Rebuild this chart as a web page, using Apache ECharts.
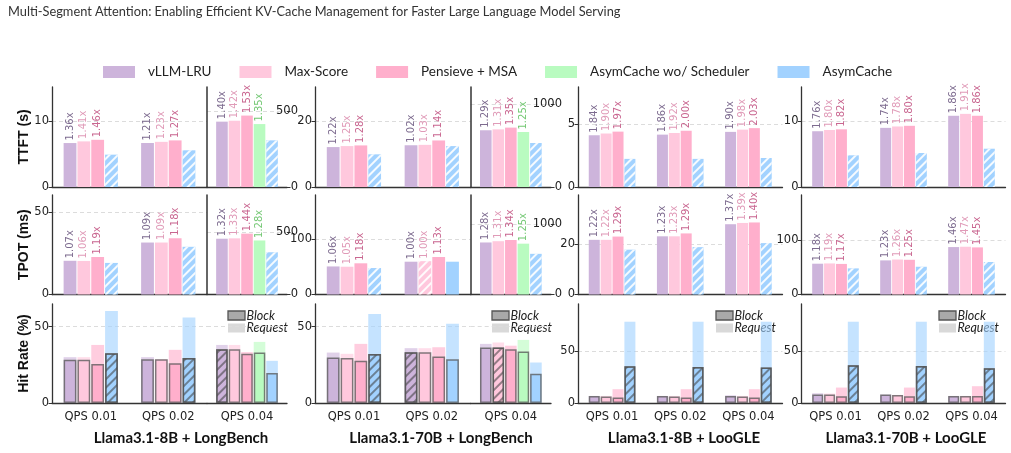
<!DOCTYPE html>
<html>
<head>
<meta charset="utf-8">
<script src="https://cdn.jsdelivr.net/npm/echarts@6/dist/echarts.min.js"></script>
<style>
  html, body { margin: 0; padding: 0; background: #fff; }
  #main { width: 1011px; height: 453px; }
</style>
</head>
<body>
<div id="main"></div>
<script>
// ---- data ----
var qps = ['QPS 0.01', 'QPS 0.02', 'QPS 0.04'];
var models = ['Llama3.1-8B + LongBench', 'Llama3.1-70B + LongBench', 'Llama3.1-8B + LooGLE', 'Llama3.1-70B + LooGLE'];
var methods = ['vLLM-LRU', 'Max-Score', 'Pensieve + MSA', 'AsymCache wo/ Scheduler', 'AsymCache'];
var metricNames = ['TTFT (s)', 'TPOT (ms)', 'Hit Rate (%)'];
var title = 'Multi-Segment Attention: Enabling Efficient KV-Cache Management for Faster Large Language Model Serving';

// one row per model, one value per QPS (QPS 0.04 of the LongBench models is on its own scale)
var ttftLru  = [[6.66, 6.67, 430], [12.1, 12.65, 686], [4.14, 4.19, 4.41], [8.45, 8.96, 10.79]];
var ttftMs   = [[6.91, 6.84, 436], [12.4, 12.77, 697], [4.28, 4.32, 4.59], [8.64, 9.17, 11.08]];
var ttftPm   = [[7.15, 7.06, 470], [12.6, 14.1, 718], [4.43, 4.5, 4.71], [8.74, 9.27, 10.79]];
var ttftWos  = [[null, null, 414], [null, null, 665], [null, null, null], [null, null, null]];
var ttftAsym = [[4.9, 5.56, 307], [9.9, 12.4, 532], [2.25, 2.25, 2.32], [4.8, 5.15, 5.8]];

var ttftLruLab = [['1.36x', '1.21x', '1.40x'], ['1.22x', '1.02x', '1.29x'], ['1.84x', '1.86x', '1.90x'], ['1.76x', '1.74x', '1.86x']];
var ttftMsLab  = [['1.41x', '1.23x', '1.42x'], ['1.25x', '1.03x', '1.31x'], ['1.90x', '1.92x', '1.98x'], ['1.80x', '1.78x', '1.91x']];
var ttftPmLab  = [['1.46x', '1.27x', '1.53x'], ['1.28x', '1.14x', '1.35x'], ['1.97x', '2.00x', '2.03x'], ['1.82x', '1.80x', '1.86x']];
var ttftWosLab = [['', '', '1.35x'], ['', '', '1.25x'], ['', '', ''], ['', '', '']];

var tpotLru  = [[20.5, 31.6, 449], [50.9, 59.5, 742], [21.7, 23.1, 27.9], [56.6, 62.7, 87.2]];
var tpotMs   = [[20.4, 31.6, 452], [50.4, 60.5, 760], [21.7, 23.1, 28.4], [57.1, 64.3, 87.8]];
var tpotPm   = [[22.8, 34.2, 490], [56.6, 68, 777], [23.0, 24.25, 28.6], [56.2, 63.8, 86.6]];
var tpotWos  = [[null, null, 435], [null, null, 725], [null, null, null], [null, null, null]];
var tpotAsym = [[19.2, 29.0, 340], [48, 59.5, 580], [17.8, 18.8, 20.4], [48, 51, 59.7]];

var tpotLruLab = [['1.07x', '1.09x', '1.32x'], ['1.06x', '1.00x', '1.28x'], ['1.22x', '1.23x', '1.37x'], ['1.18x', '1.23x', '1.46x']];
var tpotMsLab  = [['1.06x', '1.09x', '1.33x'], ['1.05x', '1.00x', '1.31x'], ['1.22x', '1.23x', '1.39x'], ['1.19x', '1.26x', '1.47x']];
var tpotPmLab  = [['1.19x', '1.18x', '1.44x'], ['1.18x', '1.13x', '1.34x'], ['1.29x', '1.29x', '1.40x'], ['1.17x', '1.25x', '1.45x']];
var tpotWosLab = [['', '', '1.28x'], ['', '', '1.25x'], ['', '', ''], ['', '', '']];

var hitBlockLru  = [[28.3, 28.7, 35.2], [29.8, 33.3, 36.3], [6.8, 6.8, 6.8], [8.1, 8.1, 6.8]];
var hitBlockMs   = [[28.3, 28.7, 35.2], [29.4, 33.3, 36.3], [6.2, 6.2, 6.2], [8.1, 7.8, 6.8]];
var hitBlockPm   = [[25.5, 26.1, 32.2], [27.6, 30.4, 35.2], [5.2, 5.2, 5.2], [6.5, 6.5, 6.8]];
var hitBlockWos  = [[null, null, 33.0], [null, null, 33.7], [null, null, null], [null, null, null]];
var hitBlockAsym = [[32.6, 29.4, 19.6], [32.0, 28.7, 19.1], [35.5, 34.8, 34.2], [36.5, 35.8, 33.6]];

var hitReqLru  = [[30, 30, 38], [33, 35.9, 38.7], [6.8, 6.8, 7.4], [9.4, 8.1, 6.8]];
var hitReqMs   = [[30, 28.7, 38], [32.2, 35.9, 39.6], [6.8, 6.8, 6.8], [9.1, 7.8, 6.8]];
var hitReqPm   = [[38, 34.8, 33.3], [38.7, 36.5, 37.5], [13.3, 13.3, 13.3], [14.9, 14.9, 16.2]];
var hitReqWos  = [[null, null, 40], [null, null, 41.3], [null, null, null], [null, null, null]];
var hitReqAsym = [[60.3, 55.9, 27.6], [58.3, 51.8, 26.5], [78.4, 78.4, 78.4], [78.4, 78.4, 78.4]];

// index of the hatched (best) method per model / QPS
var ttftHatch = [[4, 4, 4], [4, 4, 4], [4, 4, 4], [4, 4, 4]];
var tpotHatch = [[4, 4, 4], [4, 1, 4], [4, 4, 4], [4, 4, 4]];
var hitHatch  = [[4, 4, 0], [4, 0, 1], [4, 4, 4], [4, 4, 4]];

// ---- layout ----
var colors = ['#cdb4db', '#ffc8dd', '#ffafcc', '#b9fbc0', '#a2d2ff'];
var labelColors = ['#7d6b8f', '#e09bb8', '#c96690', '#74c874'];
var rowTop = [87, 195, 304], rowH = [100, 99.5, 99];
var groupX = [[52, 207, 287], [315, 470.7, 551], [578, null, 782.5], [801.5, null, 1005.5]];
var axisRange = [
  [[15.15, 10, 658, 500], [30.3, 20, 1209, 1000], [8, 5], [15.15, 10]],
  [[60.5, 50, 801, 500], [180.5, 100, 1419, 1000], [39.5, 20], [182.9, 100]],
  [[64.8, 50, 64.8, 50], [64.8, 50, 64.8, 50], [95.5, 50], [95.5, 50]]
];
var titleX = [181, 441, 684, 906];
var keyX = [228, 492, 716, 939];

var whiteHatch = {symbol: 'rect', symbolSize: 1, color: 'rgba(255,255,255,0.9)', dashArrayX: [1, 0], dashArrayY: [2, 4], rotation: -Math.PI / 4};
var greyHatch = {symbol: 'rect', symbolSize: 1, color: 'rgba(60,60,60,0.55)', dashArrayX: [1, 0], dashArrayY: [1.5, 4], rotation: -Math.PI / 4};

var grids = [], xAxes = [], yAxes = [], series = [], graphic = [];

function addGrid(x0, x1, row) {
  grids.push({left: x0, top: rowTop[row], width: x1 - x0, height: rowH[row]});
  return grids.length - 1;
}

function addCat(gi, cats, showLabel, hidden) {
  xAxes.push({
    type: 'category', gridIndex: gi, data: cats, show: !hidden,
    axisLine: {lineStyle: {color: '#333', width: 1.3}},
    axisTick: {alignWithLabel: true, length: 4, lineStyle: {color: '#333'}},
    axisLabel: {show: showLabel, interval: 0, margin: 8, fontSize: 11.5, fontFamily: 'DejaVu Sans', color: '#222'}
  });
  return xAxes.length - 1;
}

function addValue(gi, max, tick, side, bare) {
  var ticks = [0, tick];
  yAxes.push({
    type: 'value', gridIndex: gi, min: 0, max: max, position: side,
    axisLine: {show: side === 'left', lineStyle: {color: '#333', width: 1.3}},
    axisTick: {show: !bare, length: 3.5, customValues: ticks, lineStyle: {color: '#333'}},
    axisLabel: {show: !bare, customValues: ticks, align: 'right', margin: side === 'left' ? 3 : 11,
      formatter: function (v) { return String(v); },
      fontSize: 11.5, fontFamily: 'DejaVu Sans', color: '#222'},
    splitLine: {show: true, lineStyle: {color: '#dcdcdc', type: [4, 3]}}
  });
  return yAxes.length - 1;
}

function addDivider(gi) {
  yAxes.push({
    type: 'value', gridIndex: gi, min: 0, max: 1, position: 'left',
    axisLine: {show: true, lineStyle: {color: '#333', width: 1.5}},
    axisTick: {show: false}, axisLabel: {show: false}, splitLine: {show: false}
  });
}

function splitParts(g) {
  var gx = groupX[g];
  if (gx[1] === null) return [{x0: gx[0], x1: gx[2], q: [0, 1, 2], m: [0, 1, 2, 4], bw: 11}];
  return [
    {x0: gx[0], x1: gx[1], q: [0, 1], m: [0, 1, 2, 4], bw: 12.8},
    {x0: gx[1], x1: gx[2], q: [2], m: [0, 1, 2, 3, 4], bw: 11.6, right: true}
  ];
}

function latencyRow(row, vals, labs, hatch) {
  for (var g = 0; g < 4; g++) {
    var rng = axisRange[row][g];
    splitParts(g).forEach(function (p) {
      var gi = addGrid(p.x0, p.x1, row);
      var xi = addCat(gi, p.q.map(function (q) { return qps[q]; }), false, false);
      var yi;
      if (p.right) {
        addDivider(gi);
        yi = addValue(gi, rng[2], rng[3], 'right', false);
      } else {
        yi = addValue(gi, rng[0], rng[1], 'left', false);
      }
      p.m.forEach(function (m) {
        series.push({
          type: 'bar', name: methods[m], xAxisIndex: xi, yAxisIndex: yi,
          barWidth: p.bw, barGap: '8%',
          itemStyle: {color: colors[m]},
          label: {show: m < 4, position: 'top', rotate: 90, align: 'left', verticalAlign: 'middle',
            distance: 2.5, fontSize: 10, fontFamily: 'DejaVu Sans', color: labelColors[m]},
          data: p.q.map(function (q) {
            var item = {value: vals[m][g][q]};
            if (m < 4) item.label = {formatter: labs[m][g][q]};
            if (hatch[g][q] === m) item.itemStyle = {decal: whiteHatch};
            return item;
          })
        });
      });
    });
  }
}

function hitRow(block, req, hatch) {
  var row = 2;
  for (var g = 0; g < 4; g++) {
    var rng = axisRange[row][g];
    splitParts(g).forEach(function (p) {
      var gi = addGrid(p.x0, p.x1, row);
      var cats = p.q.map(function (q) { return qps[q]; });
      var xr = addCat(gi, cats, true, false);
      var xb = addCat(gi, cats, false, true);
      var yi = p.right ? addValue(gi, rng[2], rng[3], 'right', true) : addValue(gi, rng[0], rng[1], 'left', false);
      p.m.forEach(function (m) {
        series.push({
          type: 'bar', name: methods[m], xAxisIndex: xr, yAxisIndex: yi, z: 2,
          barWidth: p.bw, barGap: '8%',
          itemStyle: {color: colors[m], opacity: 0.62},
          data: p.q.map(function (q) { return req[m][g][q]; })
        });
        series.push({
          type: 'bar', name: methods[m], xAxisIndex: xb, yAxisIndex: yi, z: 3,
          barWidth: p.bw, barGap: '8%',
          itemStyle: {color: colors[m], borderColor: 'rgba(85,85,85,0.75)', borderWidth: 1.5},
          data: p.q.map(function (q) {
            var item = {value: block[m][g][q]};
            if (hatch[g][q] === m) item.itemStyle = {decal: greyHatch};
            return item;
          })
        });
      });
    });
  }
}

latencyRow(0, [ttftLru, ttftMs, ttftPm, ttftWos, ttftAsym], [ttftLruLab, ttftMsLab, ttftPmLab, ttftWosLab], ttftHatch);
latencyRow(1, [tpotLru, tpotMs, tpotPm, tpotWos, tpotAsym], [tpotLruLab, tpotMsLab, tpotPmLab, tpotWosLab], tpotHatch);
hitRow([hitBlockLru, hitBlockMs, hitBlockPm, hitBlockWos, hitBlockAsym],
       [hitReqLru, hitReqMs, hitReqPm, hitReqWos, hitReqAsym], hitHatch);

// texts
graphic.push({type: 'text', x: 8, y: 12, style: {text: title, font: '12.8px Lato', fill: '#333', verticalAlign: 'middle', textVerticalAlign: 'middle'}});
metricNames.forEach(function (t, r) {
  graphic.push({type: 'text', x: 24, y: rowTop[r] + rowH[r] / 2, rotation: Math.PI / 2,
    style: {text: t, font: 'bold 14px "Liberation Sans"', fill: '#111', align: 'center', textAlign: 'center', verticalAlign: 'middle', textVerticalAlign: 'middle'}});
});
models.forEach(function (t, g) {
  graphic.push({type: 'text', x: titleX[g], y: 438,
    style: {text: t, font: 'bold 15px Lato', fill: '#111', align: 'center', textAlign: 'center', verticalAlign: 'middle', textVerticalAlign: 'middle'}});
});
keyX.forEach(function (x) {
  graphic.push({type: 'rect', shape: {x: x, y: 311, width: 17, height: 9}, style: {fill: '#a9a9a9', stroke: '#555', lineWidth: 1.3}});
  graphic.push({type: 'rect', shape: {x: x, y: 323.5, width: 17, height: 9}, style: {fill: '#d9d9d9'}});
  graphic.push({type: 'text', x: x + 18.5, y: 315.5, style: {text: 'Block', font: 'italic 12.5px Lato', fill: '#222', verticalAlign: 'middle', textVerticalAlign: 'middle'}});
  graphic.push({type: 'text', x: x + 18.5, y: 328, style: {text: 'Request', font: 'italic 12.5px Lato', fill: '#222', verticalAlign: 'middle', textVerticalAlign: 'middle'}});
});

var chart = echarts.init(document.getElementById('main'));
chart.setOption({
  animation: false,
  legend: {
    left: 103, top: 65, padding: 0, itemWidth: 32, itemHeight: 12, itemGap: 28, icon: 'rect',
    selectedMode: false, data: methods,
    textStyle: {fontSize: 13.5, fontFamily: 'Lato', color: '#222', padding: [0, 0, 0, 8]}
  },
  grid: grids,
  xAxis: xAxes,
  yAxis: yAxes,
  series: series,
  graphic: graphic
});
</script>
</body>
</html>
